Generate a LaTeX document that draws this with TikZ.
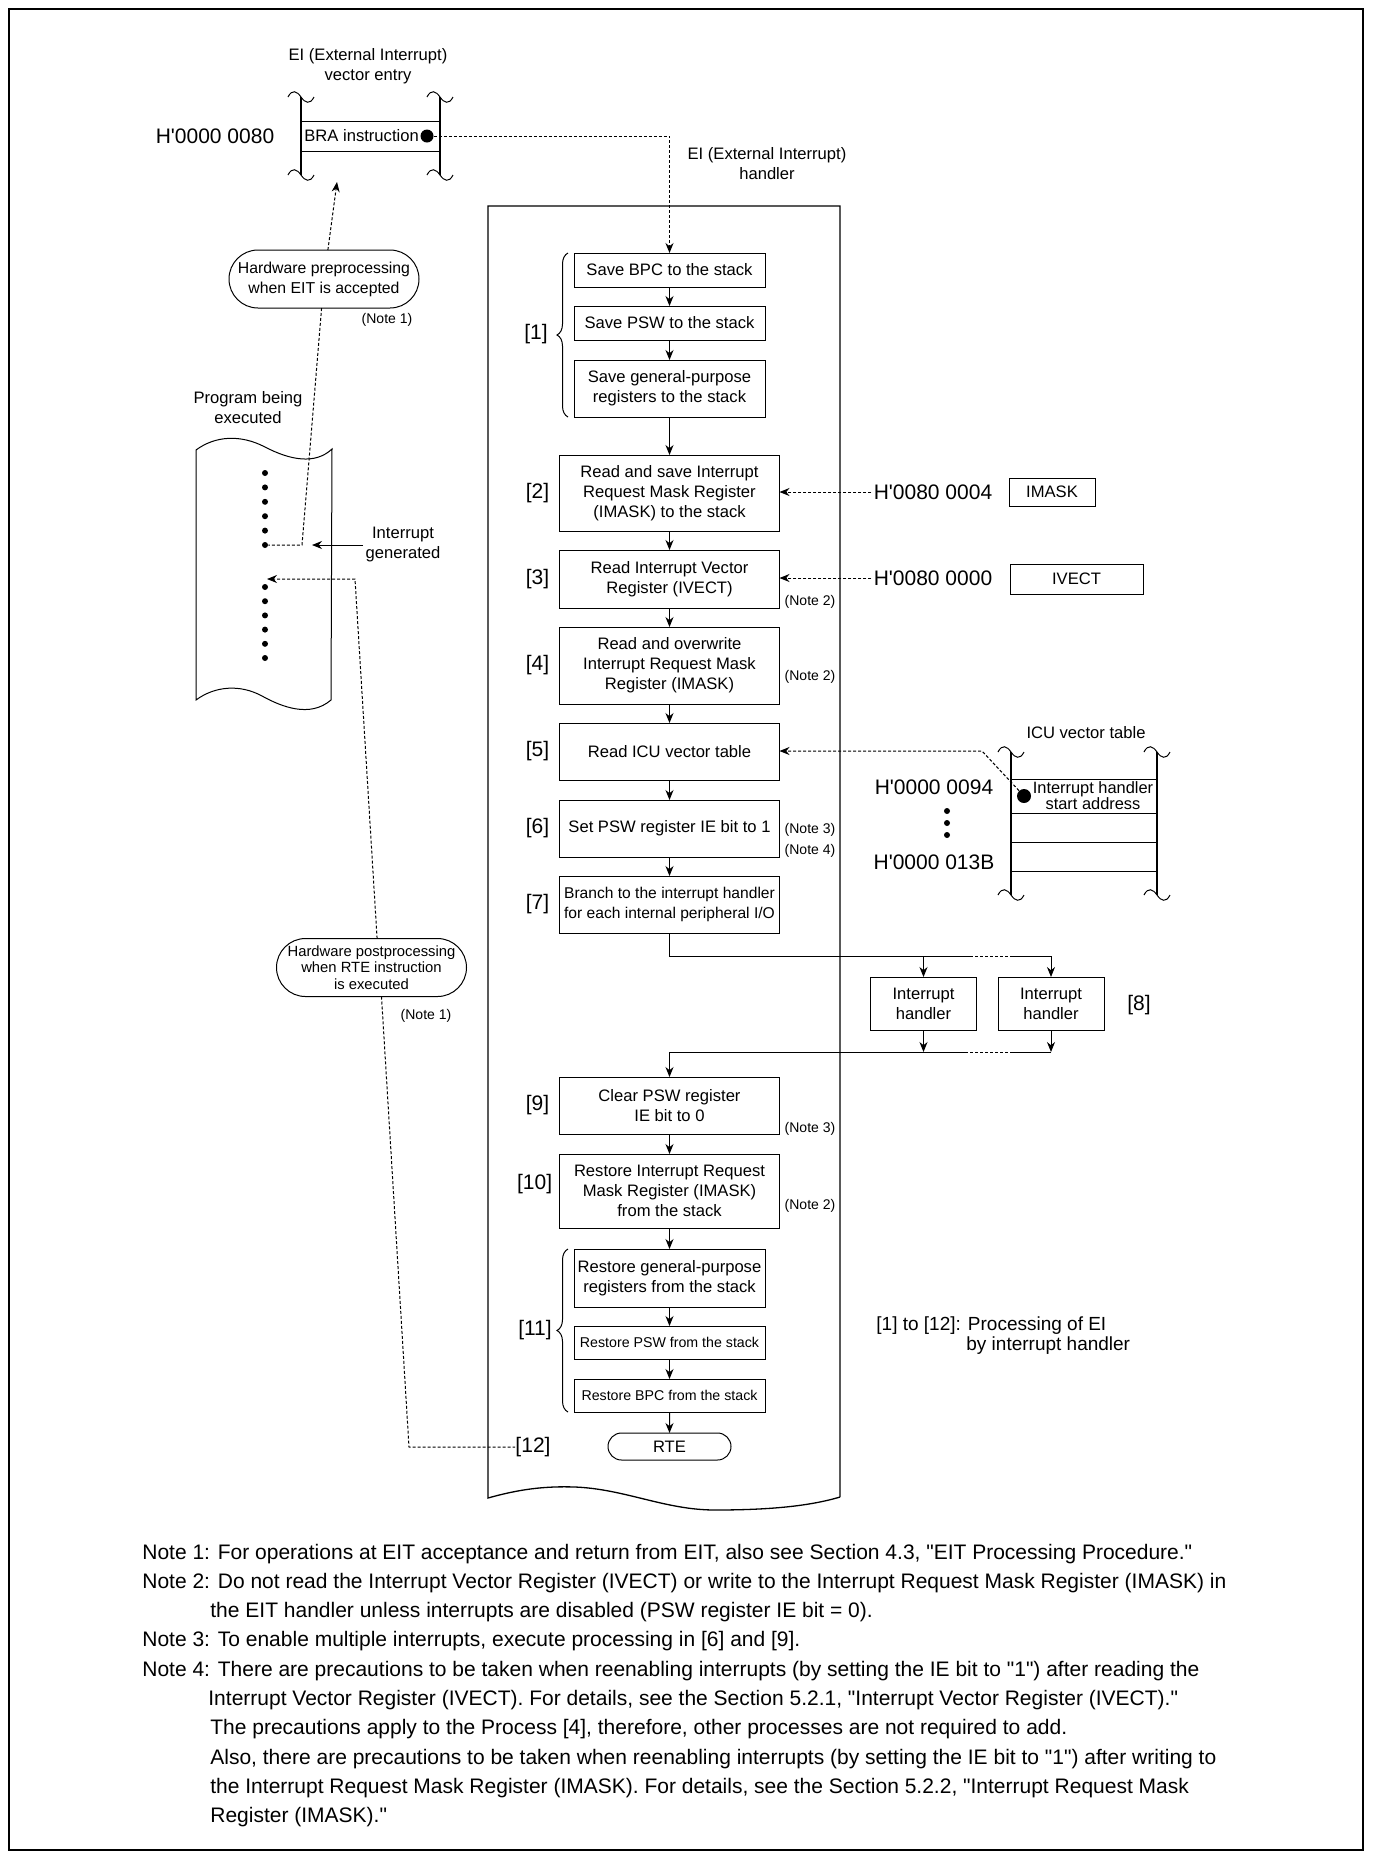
\documentclass[tikz,border=0pt]{standalone}
\usepackage{fontspec}
\setmainfont{Liberation Sans}[Ligatures=TeXOff]
\usetikzlibrary{positioning,shapes.misc,arrows.meta,decorations.pathreplacing}

\begin{document}
\begin{tikzpicture}[
  x=0.5pt, y=-0.5pt,
  every node/.style={font=\fontsize{8.3}{10}\selectfont, inner sep=1pt, align=center},
  box/.style={draw, line width=0.5pt, outer sep=0pt, minimum height=17pt},
  wbox/.style={box, minimum width=110pt},
  nbox/.style={box, minimum width=95.5pt},
  hbox/.style={box, minimum width=53pt, minimum height=26.5pt},
  regbox/.style={draw, line width=0.5pt, minimum height=14pt},
  bubble/.style={rounded rectangle, draw, line width=0.5pt, outer sep=0pt, minimum width=95pt, minimum height=29pt, inner sep=0pt},
  numlbl/.style={font=\fontsize{10.5}{12}\selectfont, inner sep=0pt},
  addr/.style={font=\fontsize{10.5}{12}\selectfont, inner sep=1pt},
  note/.style={font=\fontsize{7}{8}\selectfont, inner sep=0pt},
  fsmall/.style={font=\fontsize{7.1}{8.5}\selectfont},
  bigdot/.style={circle, fill, inner sep=0pt, minimum size=6.5pt},
  pdot/.style={circle, fill, inner sep=0pt, minimum size=3pt},
  arr/.style={line width=0.5pt, -{Stealth[length=5pt,width=4pt]}},
  dotline/.style={line width=0.5pt, dash pattern=on 1.5pt off 1pt},
  dotarr/.style={dotline, -{Stealth[length=5pt,width=4pt]}},
  wall/.style={line width=0.65pt},
  brc/.style={line width=0.5pt, decorate, decoration={brace, amplitude=5.5pt}},
  noteline/.style={anchor=base west, font=\fontsize{10.5}{12}\selectfont, inner sep=0pt},
  squig/.pic={\draw[line width=0.5pt] (-13,0) .. controls (-9,-8) and (-4,-6) .. (0,0) .. controls (4,6) and (9,8) .. (13,0);},
  node distance=9.5pt
]
  \useasboundingbox (0,0) rectangle (1372,1859);
  \draw[line width=0.6pt] (9,9) rectangle (1363,1850);

  % vector entry
  \node (vtitle) at (368,66) {EI (External Interrupt)\\vector entry};
  \draw[wall] (301,97) -- (301,175);
  \draw[wall] (440,97) -- (440,175);
  \pic at (301,97) {squig};
  \pic at (440,97) {squig};
  \pic at (301,175) {squig};
  \pic at (440,175) {squig};
  \draw[line width=0.5pt] (301,121) -- (440,121);
  \draw[line width=0.5pt] (301,151) -- (440,151);
  \node[anchor=west] (bratxt) at (302,136) {BRA instruction};
  \node[bigdot] (bradot) at (427,136) {};
  \node[addr] (vaddr) at (215,136) {H'0000 0080};

  % program being executed
  \node (prog) at (248,408) {Program being\\executed};
  \draw[line width=0.5pt] (196,450) .. controls (215,436) and (240,434) .. (265,447)
    .. controls (290,460) and (315,465) .. (332,449) -- (331,700)
    .. controls (310,718) and (282,707) .. (262,696)
    .. controls (240,684) and (215,686) .. (196,700) -- cycle;
  \foreach \k in {0,...,5} {
    \node[pdot] (pa\k) at (265,{473+14.4*\k}) {};
    \node[pdot] (pb\k) at (265,{587+14.2*\k}) {};
  }
  \node (intgen) at (403,545) {Interrupt\\generated};
  \coordinate (inttip) at (312,545);
  \draw[arr] (intgen) -- (inttip);

  % hardware pre/post processing
  \node[bubble, font=\fontsize{7.9}{10}\selectfont] (pre) at (324,279) {Hardware preprocessing\\when EIT is accepted};
  \node[note] (pren) at (387,320) {(Note 1)};
  \coordinate (vecin) at (337,182);
  \coordinate (intbend) at (302,545);
  \draw[dotarr] (pre) -- (vecin);
  \draw[dotline] (pre) -- (intbend) -- (pa5);

  \node[bubble, font=\fontsize{7.4}{8.2}\selectfont] (post) at (371.5,967.5) {Hardware postprocessing\\when RTE instruction\\is executed};
  \node[note] (postn) at (426,1016) {(Note 1)};
  \coordinate (retbend) at (409,1447);
  \coordinate (resbend) at (355,579);
  \coordinate (restip) at (267,579);

  % handler
  \node (htitle) at (767,164) {EI (External Interrupt)\\handler};
  \draw[wall] (840,1497) -- (840,206) -- (488,206) -- (488,1498)
    .. controls (520,1489) and (545,1486) .. (575,1487)
    .. controls (625,1489) and (665,1510) .. (715,1510)
    .. controls (770,1510) and (810,1506) .. (840,1497);

  \node[nbox] (b1) at (669.5,270) {Save BPC to the stack};
  \node[nbox, below=of b1] (b2) {Save PSW to the stack};
  \node[nbox, below=10pt of b2, minimum height=28.5pt] (b3) {Save general-purpose\\registers to the stack};
  \node[wbox, below=19pt of b3, minimum height=38pt] (b4) {Read and save Interrupt\\Request Mask Register\\(IMASK) to the stack};
  \node[wbox, below=of b4, minimum height=29pt] (b5) {Read Interrupt Vector\\Register (IVECT)};
  \node[wbox, below=of b5, minimum height=38.5pt] (b6) {Read and overwrite\\Interrupt Request Mask\\Register (IMASK)};
  \node[wbox, below=of b6, minimum height=28.5pt] (b7) {Read ICU vector table};
  \node[wbox, below=10pt of b7, minimum height=28.5pt] (b8) {Set PSW register IE bit to 1};
  \node[wbox, below=of b8, minimum height=28.5pt, font=\fontsize{7.8}{10}\selectfont] (b9) {Branch to the interrupt handler\\for each internal peripheral I/O};
  \node[wbox, below=72pt of b9, minimum height=28.5pt] (b10) {Clear PSW register\\IE bit to 0};
  \node[wbox, below=10pt of b10, minimum height=37pt] (b11) {Restore Interrupt Request\\Mask Register (IMASK)\\from the stack};
  \node[nbox, below=10.5pt of b11, minimum height=29pt] (b12) {Restore general-purpose\\registers from the stack};
  \node[nbox, below=of b12, minimum height=16.5pt, fsmall] (b13) {Restore PSW from the stack};
  \node[nbox, below=10pt of b13, minimum height=16.5pt, fsmall] (b14) {Restore BPC from the stack};
  \node[bubble, below=10.5pt of b14, minimum width=61.5pt, minimum height=13.5pt] (rte) {RTE};

  \foreach \a/\b in {b1/b2,b2/b3,b3/b4,b4/b5,b5/b6,b6/b7,b7/b8,b8/b9,b10/b11,b11/b12,b12/b13,b13/b14,b14/rte}
    \draw[arr] (\a) -- (\b);

  \draw[dotarr] (bradot) -| (b1);

  % step labels
  \draw[brc] ([xshift=-3pt]b3.south west) -- ([xshift=-3pt]b1.north west);
  \node[numlbl] (lbl1) at (536,334) {[1]};
  \node[numlbl, left=5pt of b4] (lbl2) {[2]};
  \node[numlbl, left=5pt of b5] (lbl3) {[3]};
  \node[numlbl, left=5pt of b6] (lbl4) {[4]};
  \node[numlbl, left=5pt of b7] (lbl5) {[5]};
  \node[numlbl, left=5pt of b8] (lbl6) {[6]};
  \node[numlbl, left=5pt of b9] (lbl7) {[7]};
  \node[numlbl, left=5pt of b10] (lbl9) {[9]};
  \node[numlbl, left=3.5pt of b11, yshift=3.5pt] (lbl10) {[10]};
  \draw[brc] ([xshift=-3pt]b14.south west) -- ([xshift=-3pt]b12.north west);
  \node[numlbl] (lbl11) at (535,1330) {[11]};
  \node[numlbl] (lbl12) at (533,1447) {[12]};

  \draw[dotline] ([xshift=5pt]post.south) -- (retbend) -- (lbl12);
  \draw[dotarr] ([xshift=2.8pt]post.north) -- (resbend) -- (restip);

  % notes beside the boxes
  \node[note] (n1) at (810,602) {(Note 2)};
  \node[note] (n2) at (810,677) {(Note 2)};
  \node[note] (n3) at (810,830) {(Note 3)};
  \node[note] (n4) at (810,851) {(Note 4)};
  \node[note] (n5) at (810,1129) {(Note 3)};
  \node[note] (n6) at (810,1206) {(Note 2)};

  % registers
  \node[addr] (a1) at (933,492) {H'0080 0004};
  \node[regbox, minimum width=43pt] (imask) at (1052,492) {IMASK};
  \node[addr] (a2) at (933,578) {H'0080 0000};
  \node[regbox, minimum width=66.5pt, minimum height=15pt] (ivect) at (1076.5,579) {IVECT};
  \draw[dotarr] (a1.west) -- (a1.west -| b4.east);
  \draw[dotarr] (a2.west) -- (a2.west -| b5.east);

  % ICU vector table
  \node (icutitle) at (1086,733) {ICU vector table};
  \draw[wall] (1011,752) -- (1011,895);
  \draw[wall] (1157,752) -- (1157,895);
  \pic at (1011,752) {squig};
  \pic at (1157,752) {squig};
  \pic at (1011,895) {squig};
  \pic at (1157,895) {squig};
  \foreach \yy in {779,813,842,871}
    \draw[line width=0.5pt] (1011,\yy) -- (1157,\yy);
  \node[bigdot, minimum size=7pt] (icudot) at (1024,796) {};
  \node[font=\fontsize{8.2}{8}\selectfont] (icutxt) at (1093,796) {Interrupt handler\\start address};
  \node[addr] (a3) at (934,787) {H'0000 0094};
  \node[addr] (a4) at (934,862) {H'0000 013B};
  \foreach \k in {0,1,2}
    \node[pdot] (vd\k) at (947,{811+12*\k}) {};
  \coordinate (icubend) at (982,751);
  \draw[dotarr] (icudot) -- (icubend) -- (icubend -| b7.east);

  % interrupt handlers
  \node[hbox] (ih1) at (923.5,1003.5) {Interrupt\\handler};
  \node[hbox] (ih2) at (1051,1003.5) {Interrupt\\handler};
  \node[numlbl] (lbl8) at (1139,1005) {[8]};
  \coordinate (sp1) at (970,956);
  \coordinate (sp2) at (1013,956);
  \coordinate (mg1) at (967,1052);
  \coordinate (mg2) at (1013,1052);
  \draw[line width=0.5pt] (b9) |- (sp1);
  \draw[dotline] (sp1) -- (sp2);
  \draw[arr] (sp2) -| (ih2);
  \draw[arr] (ih1 |- sp1) -- (ih1);
  \draw[arr] (ih1) -- (ih1 |- mg1);
  \draw[arr] (ih2) -- (ih2 |- mg1);
  \draw[line width=0.5pt] (ih2 |- mg1) -- (mg2);
  \draw[dotline] (mg2) -- (mg1);
  \draw[arr] (mg1) -| (b10);

  \node[anchor=base west, inner sep=0pt, font=\fontsize{9.5}{10}\selectfont] (proc1) at (876,1330) {[1] to [12]: Processing of EI};
  \node[anchor=base west, inner sep=0pt, font=\fontsize{9.5}{10}\selectfont] (proc2) at (966,1350) {by interrupt handler};

  % notes
  \node[noteline] (nt1) at (142,1559) {Note 1: For operations at EIT acceptance and return from EIT, also see Section 4.3, "EIT Processing Procedure."};
  \node[noteline] (nt2) at (142,1588.3) {Note 2: Do not read the Interrupt Vector Register (IVECT) or write to the Interrupt Request Mask Register (IMASK) in};
  \node[noteline] (nt3) at (210,1617.6) {the EIT handler unless interrupts are disabled (PSW register IE bit = 0).};
  \node[noteline] (nt4) at (142,1646.9) {Note 3: To enable multiple interrupts, execute processing in [6] and [9].};
  \node[noteline] (nt5) at (142,1676.2) {Note 4: There are precautions to be taken when reenabling interrupts (by setting the IE bit to "1") after reading the};
  \node[noteline] (nt6) at (208,1705.5) {Interrupt Vector Register (IVECT). For details, see the Section 5.2.1, "Interrupt Vector Register (IVECT)."};
  \node[noteline] (nt7) at (210,1734.8) {The precautions apply to the Process [4], therefore, other processes are not required to add.};
  \node[noteline] (nt8) at (210,1764.1) {Also, there are precautions to be taken when reenabling interrupts (by setting the IE bit to "1") after writing to};
  \node[noteline] (nt9) at (210,1793.4) {the Interrupt Request Mask Register (IMASK). For details, see the Section 5.2.2, "Interrupt Request Mask};
  \node[noteline] (nt10) at (210,1822.7) {Register (IMASK)."};
\end{tikzpicture}
\end{document}
